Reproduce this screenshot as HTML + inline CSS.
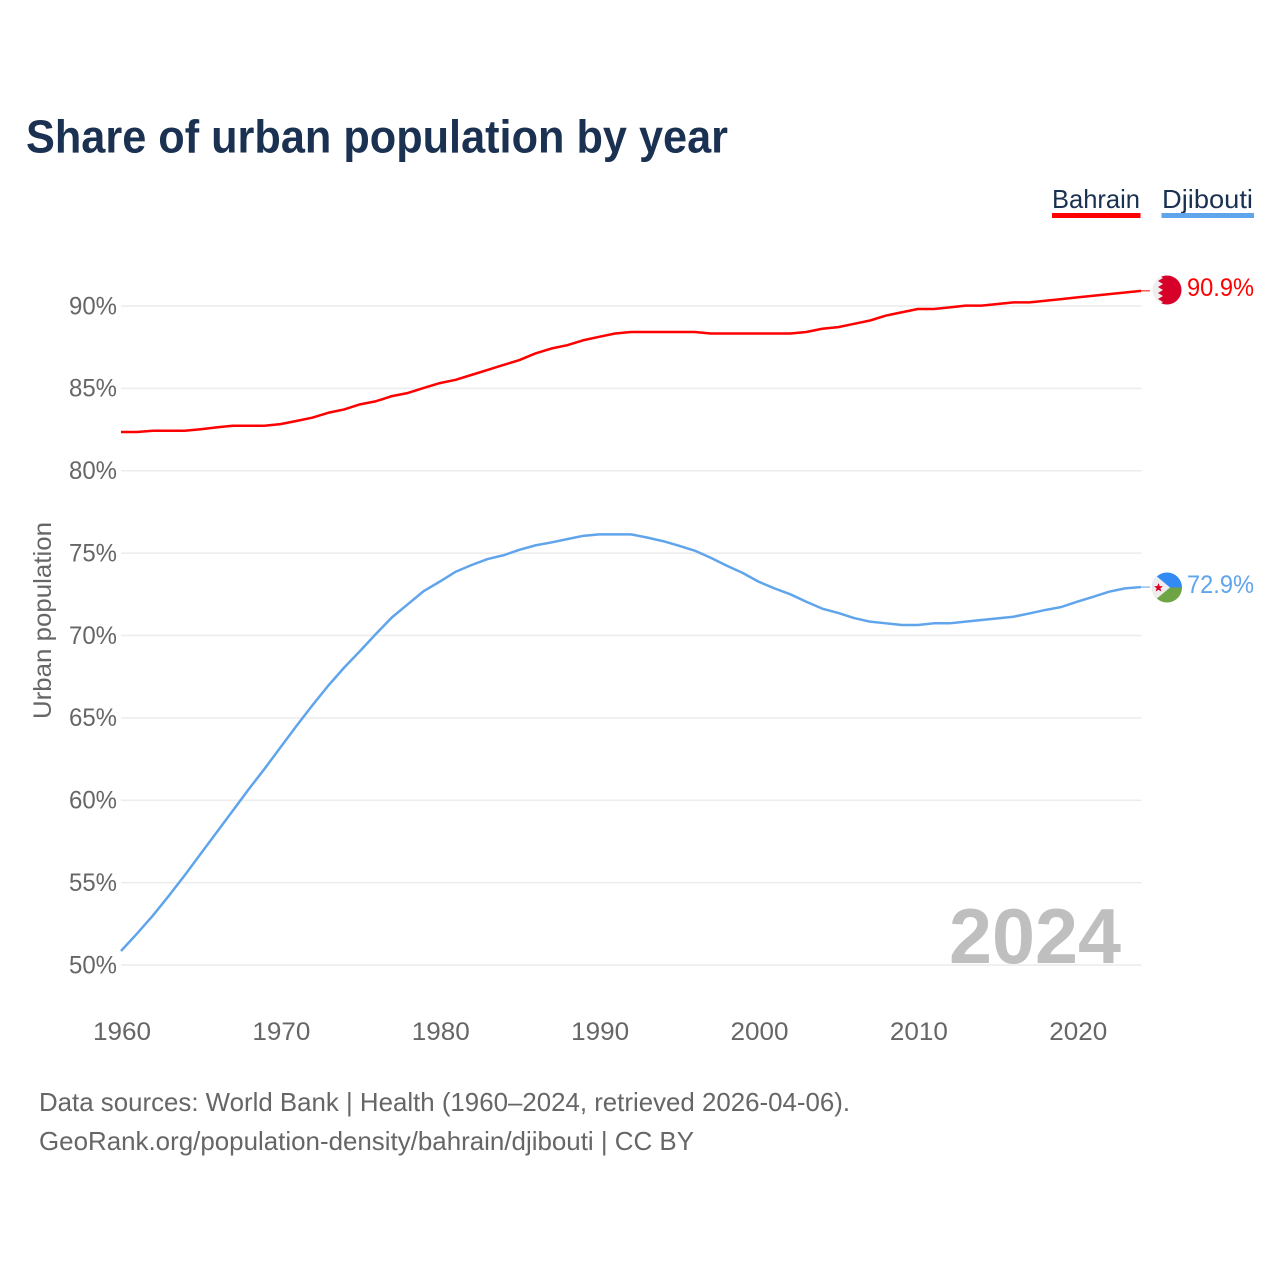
<!DOCTYPE html>
<html>
<head>
<meta charset="utf-8">
<title>Share of urban population by year</title>
<style>
html,body{margin:0;padding:0;background:#fff;width:1280px;height:1280px;overflow:hidden}
svg{display:block}
text{font-family:"Liberation Sans",sans-serif}
</style>
</head>
<body>
<svg id="chart" xmlns="http://www.w3.org/2000/svg" width="1280" height="1280" viewBox="0 0 1280 1280">
  <defs>
    <clipPath id="flag-clip-b"><circle cx="1167" cy="290" r="14.5"/></clipPath>
    <clipPath id="flag-clip-d"><circle cx="1167" cy="587.5" r="15"/></clipPath>
  </defs>
  <text x="26" y="152.5" font-size="46" font-weight="700" fill="#1a3152" textLength="702" lengthAdjust="spacingAndGlyphs">Share of urban population by year</text>

  <text x="1052" y="208" font-size="26" fill="#1a3152" textLength="88" lengthAdjust="spacingAndGlyphs">Bahrain</text>
  <rect x="1052" y="213" width="88.5" height="5" fill="#ff0000"/>
  <text x="1162" y="208" font-size="26" fill="#1a3152" textLength="91" lengthAdjust="spacingAndGlyphs">Djibouti</text>
  <rect x="1161.5" y="213" width="92.5" height="5" fill="#60a5ec"/>

  <text transform="translate(51,719) rotate(-90)" font-size="25" fill="#666666" textLength="197" lengthAdjust="spacingAndGlyphs">Urban population</text>

  <g id="grid"></g>
  <g id="yticks"></g>
  <g id="xticks"></g>

  <text x="949" y="963" font-size="78" font-weight="700" fill="#bfbfbf" textLength="172" lengthAdjust="spacingAndGlyphs">2024</text>

  <g id="series"></g>

  <g clip-path="url(#flag-clip-b)">
    <rect x="1152" y="275" width="30" height="30" fill="#eeeeee"/>
    <polygon points="1182,275 1158,275 1163,278 1158,281 1163,284 1158,287 1163,290 1158,293 1163,296 1158,299 1163,302 1158,305 1182,305" fill="#d60028"/>
  </g>
  <g clip-path="url(#flag-clip-d)">
    <rect x="1150" y="570" width="34" height="18" fill="#338af3"/>
    <rect x="1150" y="587.5" width="34" height="18" fill="#6da544"/>
    <polygon points="1148,569 1170,587.5 1148,606" fill="#eeeeee"/>
    <polygon points="1158.5,583 1159.7,586.1 1163,586.2 1160.4,588.3 1161.3,591.5 1158.5,589.7 1155.7,591.5 1156.6,588.3 1154,586.2 1157.3,586.1" fill="#d80027"/>
  </g>

  <text id="value-bahrain" x="1187" y="296" font-size="25" fill="#ff0000" textLength="67" lengthAdjust="spacingAndGlyphs"></text>
  <text id="value-djibouti" x="1187" y="593" font-size="25" fill="#60a5ec" textLength="67" lengthAdjust="spacingAndGlyphs"></text>

  <text x="39" y="1111" font-size="26" fill="#666666" textLength="811" lengthAdjust="spacingAndGlyphs">Data sources: World Bank | Health (1960–2024, retrieved 2026-04-06).</text>
  <text x="39" y="1150" font-size="26" fill="#666666" textLength="655" lengthAdjust="spacingAndGlyphs">GeoRank.org/population-density/bahrain/djibouti | CC BY</text>
</svg>
<script>
var years = [1960,1961,1962,1963,1964,1965,1966,1967,1968,1969,1970,1971,1972,1973,1974,1975,1976,1977,1978,1979,1980,1981,1982,1983,1984,1985,1986,1987,1988,1989,1990,1991,1992,1993,1994,1995,1996,1997,1998,1999,2000,2001,2002,2003,2004,2005,2006,2007,2008,2009,2010,2011,2012,2013,2014,2015,2016,2017,2018,2019,2020,2021,2022,2023,2024];
var bahrainValues = [82.35,82.35,82.43,82.43,82.43,82.52,82.63,82.73,82.73,82.73,82.83,83.02,83.22,83.52,83.72,84.03,84.22,84.53,84.72,85.03,85.32,85.52,85.82,86.12,86.42,86.72,87.12,87.42,87.62,87.92,88.13,88.33,88.42,88.42,88.42,88.42,88.42,88.33,88.33,88.33,88.33,88.33,88.33,88.42,88.62,88.72,88.92,89.12,89.42,89.62,89.82,89.82,89.92,90.02,90.02,90.12,90.22,90.22,90.32,90.42,90.52,90.62,90.72,90.82,90.92];
var djiboutiValues = [50.85,51.9,53.0,54.2,55.45,56.75,58.05,59.35,60.65,61.9,63.2,64.5,65.75,66.95,68.05,69.06,70.1,71.1,71.9,72.7,73.27,73.87,74.28,74.64,74.87,75.2,75.47,75.65,75.85,76.05,76.14,76.14,76.14,75.95,75.73,75.45,75.15,74.72,74.24,73.8,73.27,72.86,72.5,72.05,71.63,71.37,71.06,70.84,70.74,70.64,70.64,70.74,70.74,70.84,70.94,71.04,71.14,71.34,71.55,71.73,72.05,72.35,72.66,72.86,72.94];
var yTickValues = [50,55,60,65,70,75,80,85,90];
var xTickValues = [1960,1970,1980,1990,2000,2010,2020];
var bahrainLabel = '90.9%';
var djiboutiLabel = '72.9%';

var NS = 'http://www.w3.org/2000/svg';
function xScale(year){ return 121 + (year - 1960) * (1141 - 121) / 64; }
function yScale(pct){ return 965 - (pct - 50) * (965 - 306) / 40; }
function make(tag, attrs, parent){
  var el = document.createElementNS(NS, tag);
  for (var k in attrs) el.setAttribute(k, attrs[k]);
  parent.appendChild(el);
  return el;
}
var grid = document.getElementById('grid');
var yticks = document.getElementById('yticks');
var xticks = document.getElementById('xticks');
var series = document.getElementById('series');

yTickValues.forEach(function(v){
  var line = make('line', {x1:121, x2:1141.5, y1:yScale(v), y2:yScale(v), stroke:'#ececec', 'stroke-width':1.5}, grid);
  
  
  var t = make('text', {x:117, y:yScale(v)+8.3, 'font-size':25, fill:'#666666', 'text-anchor':'end', textLength:48, lengthAdjust:'spacingAndGlyphs'}, yticks);
  
  
  t.textContent = v + '%';
});
xTickValues.forEach(function(v){
  var t = make('text', {x:xScale(v)+1, y:1040, 'font-size':25, fill:'#666666', 'text-anchor':'middle', textLength:58, lengthAdjust:'spacingAndGlyphs'}, xticks);
  
  
  t.textContent = v;
});
function linePoints(vals){
  return years.map(function(y,i){ return xScale(y).toFixed(2) + ',' + yScale(vals[i]).toFixed(2); }).join(' ');
}
var bahrainLine = make('polyline', {points:linePoints(bahrainValues), fill:'none', stroke:'#ff0000', 'stroke-width':2.5, 'stroke-linejoin':'round'}, series);


var djiboutiLine = make('polyline', {points:linePoints(djiboutiValues), fill:'none', stroke:'#60a5ec', 'stroke-width':2.5, 'stroke-linejoin':'round'}, series);



var last = years.length - 1;
var bahrainLeader = make('line', {x1:xScale(years[last]), x2:1150, y1:yScale(bahrainValues[last]), y2:yScale(bahrainValues[last]), stroke:'#ff0000', 'stroke-width':1}, series);


var djiboutiLeader = make('line', {x1:xScale(years[last]), x2:1150, y1:yScale(djiboutiValues[last]), y2:yScale(djiboutiValues[last]), stroke:'#60a5ec', 'stroke-width':1}, series);



document.getElementById('value-bahrain').textContent = bahrainLabel;
document.getElementById('value-djibouti').textContent = djiboutiLabel;
</script>
</body>
</html>
